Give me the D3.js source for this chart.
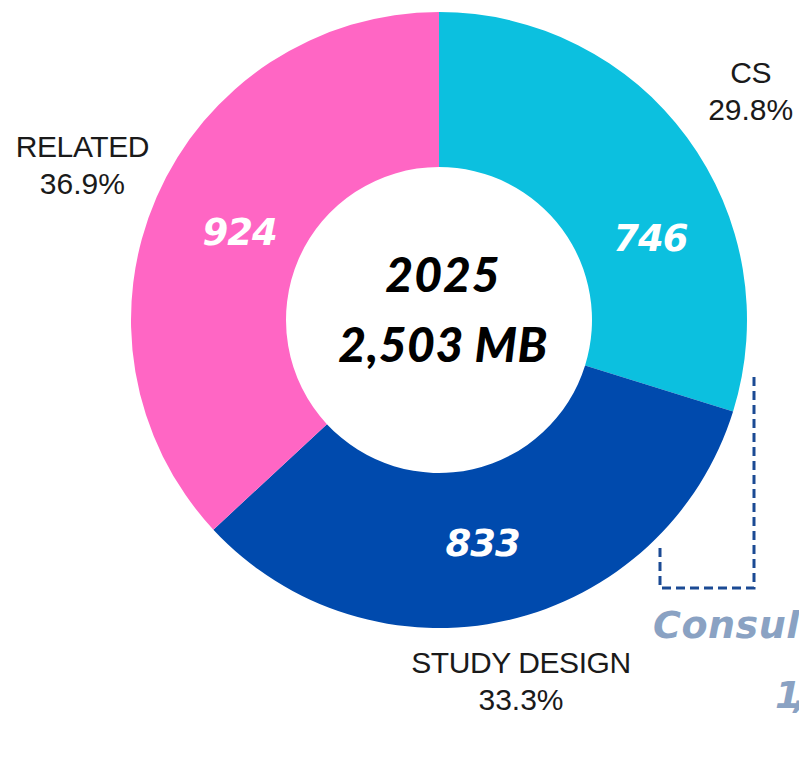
<!DOCTYPE html>
<html>
<head>
<meta charset="utf-8">
<script src="https://cdn.jsdelivr.net/npm/d3@7/dist/d3.min.js"></script>
<style>
  html, body { margin: 0; padding: 0; background: #ffffff; overflow: hidden; }
  svg { display: block; }
</style>
</head>
<body>
<svg id="chart" width="799" height="780"></svg>
<script>
// ---- data ----
const categories = ["CS", "STUDY DESIGN", "RELATED"];
const values = [746, 833, 924];
const year = "2025";
const unit = "MB";
const sideTitle = "Consulting";
const sideValue = "1,";

// ---- layout / style ----
const colors = ["#0CC0DF", "#004AAD", "#FF66C4"];
const cx = 439, cy = 320;
const outerR = 308, innerR = 153;
const valueRadius = [227, 227, 218];
const valueAngleShift = [15, 1.7, 0.3];     // degrees
const labelRadius = [387, 370, 389];

const svg = d3.select("#chart");
const g = svg.append("g").attr("transform", `translate(${cx},${cy})`);

const total = d3.sum(values);
const pie = d3.pie().sort(null).value(d => d);
const arcs = pie(values);
const arc = d3.arc().innerRadius(innerR).outerRadius(outerR);

g.selectAll("path.slice")
  .data(arcs)
  .join("path")
  .attr("class", "slice")
  .attr("d", arc)
  .attr("fill", (d, i) => colors[i]);

const toRad = Math.PI / 180;
function pointAt(angle, r) {
  return [r * Math.sin(angle), -r * Math.cos(angle)];
}

// value labels
g.selectAll("text.val")
  .data(arcs)
  .join("text")
  .attr("class", "val")
  .attr("transform", (d, i) => {
    const a = (d.startAngle + d.endAngle) / 2 + valueAngleShift[i] * toRad;
    const [x, y] = pointAt(a, valueRadius[i]);
    return `translate(${x},${y})`;
  })
  .attr("text-anchor", "middle")
  .attr("dy", "0.36em")
  .attr("fill", "#ffffff")
  .style("font-family", "'DejaVu Sans', sans-serif")
  .style("font-weight", "bold")
  .style("font-style", "italic")
  .style("font-size", "37px")
  .style("letter-spacing", "-1px")
  .text(d => d.data);

// outer labels (one text, two lines)
const pct = d3.format(".1%");
const outer = g.selectAll("text.lab")
  .data(arcs)
  .join("text")
  .attr("class", "lab")
  .attr("transform", (d, i) => {
    const a = (d.startAngle + d.endAngle) / 2;
    const [x, y] = pointAt(a, labelRadius[i]);
    return `translate(${x},${y})`;
  })
  .attr("text-anchor", "middle")
  .attr("fill", "#1a1a1a")
  .style("font-family", "'Liberation Sans', Arial, sans-serif")
  .style("font-size", "30px");
outer.append("tspan")
  .attr("x", 0)
  .attr("y", -8)
  .style("letter-spacing", "-0.4px")
  .text((d, i) => categories[i]);
outer.append("tspan")
  .attr("x", 0)
  .attr("y", 29)
  .text(d => pct(d.data / total));

// center text
const center = g.append("text")
  .attr("fill", "#000000")
  .style("font-family", "Lato, sans-serif")
  .style("font-weight", "900")
  .style("font-style", "italic")
  .style("font-size", "48px")
  .attr("text-anchor", "middle");
center.append("tspan").attr("x", 4).attr("y", -28).style("letter-spacing", "1px").text(year);
center.append("tspan").attr("x", 4).attr("y", 42).style("letter-spacing", "0.5px").text(d3.format(",")(total) + " " + unit);

// dashed bracket annotation
const bracket = d3.path();
bracket.moveTo(outerR + 7, 57);
bracket.lineTo(outerR + 7, 268);
bracket.lineTo(221, 268);
bracket.lineTo(221, 223);
g.append("path")
  .attr("d", bracket.toString())
  .attr("fill", "none")
  .attr("stroke", "#1B4A94")
  .attr("stroke-width", 3)
  .attr("stroke-dasharray", "9,5");

// side label (cut by the right edge, as in the original)
const side = g.append("g")
  .attr("fill", "#8AA2C3")
  .style("font-family", "'DejaVu Sans', sans-serif")
  .style("font-weight", "bold")
  .style("font-style", "italic")
  .style("font-size", "38px");
side.append("text").attr("x", 214).attr("y", 318).style("letter-spacing", "0.5px").text(sideTitle);
side.append("text").attr("x", 336).attr("y", 388).style("letter-spacing", "-8px").text(sideValue);
</script>
</body>
</html>
